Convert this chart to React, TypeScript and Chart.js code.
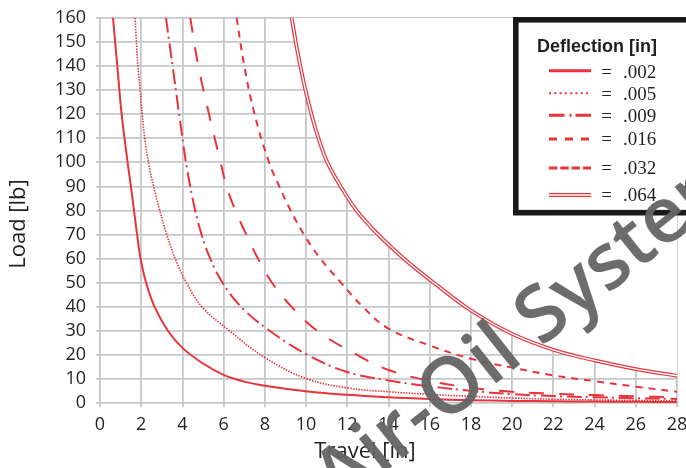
import React, { useEffect, useRef } from 'react';
import { Chart, registerables } from 'chart.js';

Chart.register(...registerables);

// ---- data ----
const deflectionLabels = ['.002', '.005', '.009', '.016', '.032', '.064'];

const travel002 = [0.63, 0.84, 1.05, 1.34, 1.5, 1.65, 1.8, 1.97, 2.24, 2.65, 3.3, 4, 5, 6, 7, 8, 10, 12, 14, 16, 18, 20, 22, 24, 26, 28];
const load002 = [160, 140, 120, 100, 90, 80, 70, 60, 50, 40, 30, 23, 16.5, 11.8, 9, 7.3, 5, 3.5, 2.5, 1.8, 1.3, 1.0, 0.85, 0.7, 0.6, 0.5];

const travel005 = [1.7, 1.84, 1.95, 2.05, 2.17, 2.35, 2.6, 2.9, 3.24, 3.65, 4.2, 4.95, 6.3, 8.0, 10, 12, 14, 16, 18, 20, 22, 24, 26, 28];
const load005 = [160, 140, 130, 120, 110, 100, 90, 80, 70, 60, 50, 40, 30, 19, 10.3, 6.4, 4.8, 3.7, 2.9, 2.2, 1.7, 1.4, 1.2, 1.0];

const travel009 = [3.2, 3.52, 3.84, 4.17, 4.38, 4.62, 4.93, 5.35, 5.95, 6.85, 8.25, 10.1, 12, 14, 16, 18, 20, 22, 24, 26, 28];
const load009 = [160, 140, 120, 100, 90, 80, 70, 60, 50, 40, 30, 20, 13, 9.5, 7.0, 5.2, 3.8, 3.0, 2.5, 2.1, 1.8];

const travel016 = [4.38, 4.77, 5.29, 5.85, 6.14, 6.57, 7.1, 7.67, 8.35, 9.3, 10.55, 12.5, 14, 16, 18, 20, 22, 24, 26, 28];
const load016 = [160, 140, 120, 100, 90, 80, 70, 60, 50, 40, 30, 20, 13.8, 9.3, 6.5, 4.8, 4.0, 3.4, 2.9, 2.5];

const travel032 = [6.63, 7.0, 7.5, 8.2, 8.7, 9.25, 9.9, 10.7, 11.7, 12.76, 14, 16, 18, 20, 22, 24, 26, 28];
const load032 = [160, 140, 120, 100, 90, 80, 70, 60, 50, 40, 31, 24, 18.5, 14.8, 11.6, 9.2, 6.9, 4.8];

const travel064 = [9.3, 9.5, 9.72, 9.97, 10.26, 10.6, 11.03, 11.68, 12.45, 13.5, 14.75, 16.2, 18, 20, 22, 24, 26, 28];
const load064 = [160, 150, 140, 130, 120, 110, 100, 90, 80, 70, 60, 50, 38.5, 28.8, 22.2, 17.8, 14.2, 11.4];

const xTitle = 'Travel [in]';
const yTitle = 'Load [lb]';
const legendTitle = 'Deflection [in]';
const watermarkText = 'Air-Oil Systems';

// ---- styles ----
const RED = '#e8333b';
const GRID = '#c6c7c9';
const TEXT = '#231f20';
const SANS = '"Open Sans", sans-serif';

const pts = (xs: number[], ys: number[]) => xs.map((x, i) => ({ x, y: ys[i] }));

const legendStyles = [
  { dash: [] as number[], width: 3 },
  { dash: [2, 3.3], width: 2 },
  { dash: [15.5, 5, 2, 4], width: 3 },
  { dash: [8, 8], width: 3 },
  { dash: [8.3, 3], width: 3 },
  { dash: [] as number[], width: 4, double: true },
];
const legendRowLineY = [70.7, 93.3, 115.3, 139, 168, 195];
const legendRowTextY = [78, 100, 122, 144.5, 173.5, 200.5];

const legendPlugin = {
  id: 'customLegend',
  afterDraw(chart: any) {
    const ctx = chart.ctx;
    ctx.save();
    ctx.fillStyle = '#ffffff';
    ctx.fillRect(513, 17, 190, 198.5);
    ctx.strokeStyle = '#1a1a1a';
    ctx.lineWidth = 5.6;
    ctx.strokeRect(515.8, 19.8, 190, 192.9);
    ctx.fillStyle = TEXT;
    ctx.font = 'bold 18px "Liberation Sans", Arial, sans-serif';
    ctx.textAlign = 'left';
    ctx.textBaseline = 'alphabetic';
    ctx.fillText(legendTitle, 537, 52);
    deflectionLabels.forEach((lab, i) => {
      const st = legendStyles[i];
      const y = legendRowLineY[i];
      ctx.beginPath();
      ctx.setLineDash(st.dash);
      ctx.lineWidth = st.width;
      ctx.strokeStyle = RED;
      ctx.moveTo(549, y);
      ctx.lineTo(591, y);
      ctx.stroke();
      if ((st as any).double) {
        ctx.beginPath();
        ctx.setLineDash([]);
        ctx.lineWidth = 1.5;
        ctx.strokeStyle = '#ffffff';
        ctx.moveTo(548, y);
        ctx.lineTo(592, y);
        ctx.stroke();
      }
      ctx.setLineDash([]);
      ctx.fillStyle = TEXT;
      ctx.font = '19px "Liberation Serif", "Times New Roman", serif';
      ctx.textAlign = 'center';
      ctx.fillText('=', 606.7, legendRowTextY[i]);
      ctx.textAlign = 'left';
      ctx.fillText(lab, 623, legendRowTextY[i]);
    });
    ctx.restore();
  },
};

const titlesPlugin = {
  id: 'axisTitles',
  afterDraw(chart: any) {
    const ctx = chart.ctx;
    ctx.save();
    ctx.fillStyle = TEXT;
    ctx.font = '22px ' + SANS;
    ctx.textAlign = 'center';
    ctx.textBaseline = 'alphabetic';
    ctx.fillText(xTitle, 365, 458);
    ctx.translate(25, 224);
    ctx.rotate(-Math.PI / 2);
    ctx.fillText(yTitle, 0, 0);
    ctx.restore();
  },
};

const watermarkPlugin = {
  id: 'watermark',
  afterDraw(chart: any) {
    const ctx = chart.ctx;
    ctx.save();
    ctx.translate(340, 508);
    ctx.rotate((-38.6 * Math.PI) / 180);
    ctx.font = '600 78px ' + SANS;
    ctx.fillStyle = 'rgba(100,100,100,0.95)';
    ctx.textAlign = 'left';
    ctx.textBaseline = 'alphabetic';
    ctx.fillText(watermarkText, 0, 0);
    ctx.restore();
  },
};

export default function App() {
  const ref = useRef<HTMLCanvasElement | null>(null);
  useEffect(() => {
    document.body.style.margin = '0';
    const canvas = ref.current;
    if (!canvas) return;
    const base = {
      pointRadius: 0,
      pointHoverRadius: 0,
      fill: false,
      tension: 0.4,
      borderColor: RED,
      order: 2,
    };
    const chart = new Chart(canvas, {
      type: 'line',
      data: {
        datasets: [
          { ...base, label: '.002', data: pts(travel002, load002), borderWidth: 2 },
          { ...base, label: '.005', data: pts(travel005, load005), borderWidth: 1.6, borderDash: [1.5, 1.3] },
          { ...base, label: '.009', data: pts(travel009, load009), borderWidth: 2, borderDash: [15, 4, 2, 5] },
          { ...base, label: '.016', data: pts(travel016, load016), borderWidth: 2, borderDash: [15, 15] },
          { ...base, label: '.032', data: pts(travel032, load032), borderWidth: 2, borderDash: [7, 6] },
          {
            ...base,
            label: '.064',
            data: pts(travel064, load064),
            borderWidth: 3.8,
            fill: 'end',
            backgroundColor: '#ffffff',
            order: 1,
          },
          {
            ...base,
            label: '.064 inner',
            data: pts(travel064, load064),
            borderWidth: 1.4,
            borderColor: '#ffffff',
            order: 0,
          },
        ],
      },
      options: {
        responsive: false,
        animation: false,
        events: [],
        layout: { padding: { top: 17.7, right: 9, left: 0, bottom: 0 } },
        plugins: {
          legend: { display: false },
          tooltip: { enabled: false },
          filler: { propagate: false },
        },
        scales: {
          x: {
            type: 'linear',
            min: 0,
            max: 28,
            border: { display: false },
            grid: { color: GRID, lineWidth: 1.8, tickLength: 4, tickColor: GRID },
            ticks: {
              stepSize: 2,
              color: TEXT,
              font: { family: SANS, size: 18 },
              padding: 7,
              maxRotation: 0,
              autoSkip: false,
            },
            afterFit: (s: any) => {
              s.height = 64.7;
              s.paddingLeft = 0;
              s.paddingRight = 0;
              s.paddingTop = 0;
              s.paddingBottom = 0;
            },
          },
          y: {
            type: 'linear',
            min: 0,
            max: 160,
            border: { display: false },
            grid: { color: GRID, lineWidth: 1.8, tickLength: 4, tickColor: GRID },
            ticks: {
              stepSize: 10,
              color: TEXT,
              font: { family: SANS, size: 18 },
              padding: 10,
              autoSkip: false,
            },
            afterFit: (s: any) => {
              s.width = 100;
              s.paddingLeft = 0;
              s.paddingRight = 0;
              s.paddingTop = 0;
              s.paddingBottom = 0;
            },
          },
        },
      },
      plugins: [titlesPlugin, legendPlugin, watermarkPlugin],
    } as any);
    return () => chart.destroy();
  }, []);
  return (
    <div style={{ width: 686, height: 468 }}>
      <canvas ref={ref} width={686} height={468} style={{ display: 'block' }} />
    </div>
  );
}
